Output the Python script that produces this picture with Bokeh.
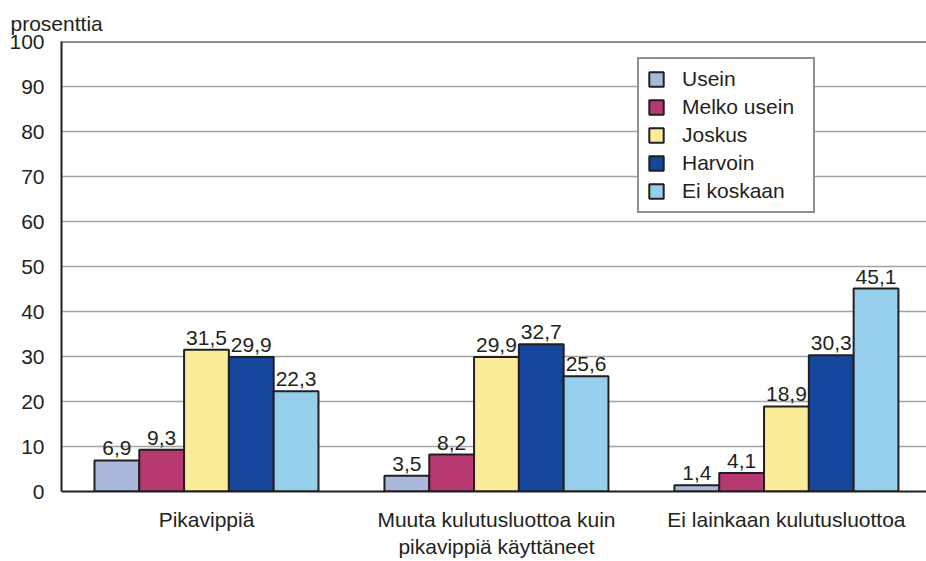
from bokeh.plotting import figure
from bokeh.models import (Range1d, FixedTicker, ColumnDataSource, Legend, LegendItem,
                          Span, LabelSet)
from bokeh.embed import file_html
from bokeh.resources import INLINE
from bokeh.core.properties import value

# ---------------- data ----------------
categories = ["Pikavippiä",
              "Muuta kulutusluottoa kuin\npikavippiä käyttäneet",
              "Ei lainkaan kulutusluottoa"]
series = ["Usein", "Melko usein", "Joskus", "Harvoin", "Ei koskaan"]
usein = [6.9, 3.5, 1.4]
melko_usein = [9.3, 8.2, 4.1]
joskus = [31.5, 29.9, 18.9]
harvoin = [29.9, 32.7, 30.3]
ei_koskaan = [22.3, 25.6, 45.1]
y_ticks = [0, 10, 20, 30, 40, 50, 60, 70, 80, 90, 100]
y_title = "prosenttia"

values_by_series = [usein, melko_usein, joskus, harvoin, ei_koskaan]
colors = ["#aab8dc", "#b63a71", "#fbec99", "#17479c", "#95cfeb"]

FONT = "Liberation Sans"
TEXT = "#231f20"
FS = "21px"

bw = 0.1545  # bar width in category units

p = figure(width=926, height=561, output_backend="svg", toolbar_location=None,
           x_range=Range1d(0, 2.983), y_range=Range1d(0, 100),
           min_border_left=61, min_border_right=0, min_border_top=41,
           min_border_bottom=70)
p.outline_line_color = None
p.background_fill_color = "white"
p.border_fill_color = "white"

p.title.text = y_title
p.title.align = "left"
p.title.offset = -51
p.title.standoff = 13
p.title.text_font = FONT
p.title.text_font_size = FS
p.title.text_font_style = "normal"
p.title.text_color = TEXT

p.xgrid.visible = False
p.ygrid.ticker = FixedTicker(ticks=y_ticks)
p.ygrid.grid_line_color = "#a3a3a3"
p.ygrid.grid_line_width = 1.5

legend_items = []
for j, (name, vals, col) in enumerate(zip(series, values_by_series, colors)):
    xs = [i + 0.5 + (j - 2) * bw for i in range(len(categories))]
    src = ColumnDataSource(dict(x=xs, top=vals,
                                label=[f"{v:.1f}".replace(".", ",") for v in vals]))
    r = p.vbar(x="x", top="top", bottom=0, width=bw, source=src,
               fill_color=col, line_color=TEXT, line_width=2)
    legend_items.append(LegendItem(label=name, renderers=[r]))
    labels = LabelSet(x="x", y="top", text="label", source=src,
                      text_align="center", text_baseline="bottom", y_offset=5,
                      text_font=value(FONT), text_font_size=FS, text_color=TEXT)
    p.add_layout(labels)

p.add_layout(Span(location=100, dimension="width", line_color=TEXT, line_width=2))

# axes
p.yaxis.ticker = FixedTicker(ticks=y_ticks)
p.xaxis.ticker = FixedTicker(ticks=[i + 0.5 for i in range(len(categories))])
p.xaxis.major_label_overrides = {i + 0.5: c for i, c in enumerate(categories)}
for ax in (p.xaxis[0], p.yaxis[0]):
    ax.axis_line_color = TEXT
    ax.axis_line_width = 2
    ax.major_tick_line_color = None
    ax.minor_tick_line_color = None
    ax.major_label_text_font = FONT
    ax.major_label_text_font_size = FS
    ax.major_label_text_color = TEXT
p.yaxis.major_label_standoff = 11
p.xaxis.major_label_standoff = 10
p.xaxis.major_label_text_line_height = 1.2

legend = Legend(items=legend_items, location=(576, 278), margin=0,
                border_line_color=TEXT, border_line_width=2,
                padding=8, spacing=4, label_height=22,
                glyph_height=18, glyph_width=18, label_standoff=17,
                label_width=123, label_text_font=FONT, label_text_font_size=FS,
                label_text_color=TEXT, background_fill_color="white",
                background_fill_alpha=1)
p.add_layout(legend)

open("out.html", "w").write(file_html(p, INLINE))
